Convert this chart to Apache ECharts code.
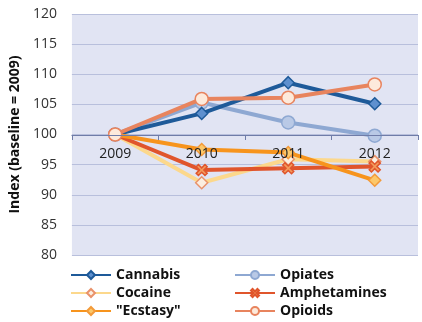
<!DOCTYPE html>
<html><head><meta charset="utf-8">
<script src="https://cdn.jsdelivr.net/npm/echarts@6/dist/echarts.min.js"></script>
<style>html,body{margin:0;padding:0;background:#fff}#c{width:422px;height:322px}</style>
</head><body><div id="c"></div>
<script>
const years = ['2009','2010','2011','2012'];
const cannabis = [100, 103.5, 108.6, 105.1];
const opiates = [100, 105.3, 102.0, 99.8];
const cocaine = [100, 92.0, 95.9, 95.5];
const amphetamines = [100, 94.1, 94.4, 94.7];
const ecstasy = [100, 97.5, 97.0, 92.4];
const opioids = [100, 105.9, 106.1, 108.3];

const xPath = 'path://M2,0 L5,3 L8,0 L10,2 L7,5 L10,8 L8,10 L5,7 L2,10 L0,8 L3,5 L0,2 Z';
const FONT = 'Open Sans';

function s(name, data, line, symbol, size, fill, stroke, z) {
  return {
    name, type: 'line', data, symbol, symbolSize: size, z,
    lineStyle: { color: line, width: 4 },
    itemStyle: { color: fill, borderColor: stroke, borderWidth: 1.5 },
    emphasis: { disabled: true },
    animation: false
  };
}
const legendText = { fontSize: 14, fontWeight: 'bold', color: '#111', fontFamily: FONT, lineHeight: 16 };

const chart = echarts.init(document.getElementById('c'));
chart.setOption({
  animation: false,
  grid: { left: 67, right: 4, top: 14, bottom: 67, show: true, backgroundColor: '#e1e4f3', borderWidth: 0 },
  xAxis: {
    type: 'category', data: years, boundaryGap: true, offset: -120, z: 10,
    axisLine: { lineStyle: { color: '#6f7ca8', width: 1 } },
    axisTick: { show: true, length: 5, lineStyle: { color: '#6f7ca8' } },
    axisLabel: { color: '#222', fontSize: 14, fontFamily: FONT, margin: 12 },
    splitLine: { show: false }
  },
  yAxis: {
    type: 'value', min: 80, max: 120, interval: 5,
    name: 'Index (baseline = 2009)', nameLocation: 'middle', nameGap: 49,
    nameTextStyle: { fontSize: 14, fontWeight: 'bold', color: '#111', fontFamily: FONT },
    axisLine: { show: false }, axisTick: { show: false },
    axisLabel: { color: '#333', fontSize: 14, fontFamily: FONT, margin: 15 },
    splitLine: { lineStyle: { color: '#b8bfdc', width: 1 } }
  },
  legend: [
    { left: 70, top: 267, height: 56, padding: 0, orient: 'vertical', itemWidth: 40, itemHeight: 10, itemGap: 2,
      data: ['Cannabis', 'Cocaine', '"Ecstasy"'], textStyle: legendText },
    { left: 234, top: 267, height: 56, padding: 0, orient: 'vertical', itemWidth: 40, itemHeight: 10, itemGap: 2,
      data: ['Opiates', 'Amphetamines', 'Opioids'], textStyle: legendText }
  ],
  series: [
    s('Opiates', opiates, '#8ea8d2', 'circle', 13, '#b9c9e6', '#8ea8d2', 2),
    s('Cannabis', cannabis, '#1e5a99', 'diamond', 12, '#5e90cf', '#1e5a99', 3),
    s('Cocaine', cocaine, '#fcd88c', 'diamond', 12, '#fbeee0', '#e9926a', 4),
    s('Amphetamines', amphetamines, '#e0552c', xPath, 11, '#f39a5c', '#e0552c', 5),
    s('"Ecstasy"', ecstasy, '#f7941d', 'diamond', 12, '#fcc86a', '#f39a3a', 6),
    s('Opioids', opioids, '#e8845e', 'circle', 13, '#fdeadb', '#e8845e', 7)
  ]
});
</script></body></html>
